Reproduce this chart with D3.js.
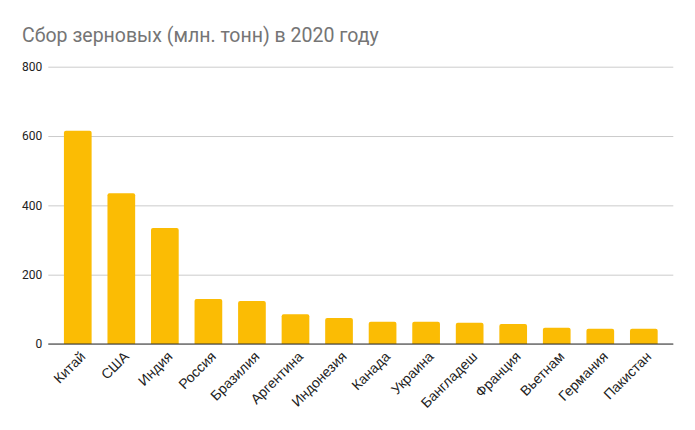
<!DOCTYPE html>
<html><head><meta charset="utf-8">
<script src="https://cdn.jsdelivr.net/npm/d3@7"></script>
<style>body{margin:0;background:#fff;font-family:Roboto,Arial,sans-serif}</style>
</head><body><svg id="c" width="695" height="430"></svg>
<script>
const title = "Сбор зерновых (млн. тонн) в 2020 году";
const categories = ["Китай","США","Индия","Россия","Бразилия","Аргентина","Индонезия","Канада","Украина","Бангладеш","Франция","Вьетнам","Германия","Пакистан"];
const values = [615,435,335,130,124,86,75,64,64,61,58,47,44,44];
const yTicks = [0,200,400,600,800];

const svg = d3.select("#c");
svg.append("rect").attr("width",695).attr("height",430).attr("fill","#fff");
const mLeft = 48.3, mRight = 673.3, mTop = 66.7, mBottom = 344;
const x = d3.scaleBand().domain(categories).range([56,665.6]).paddingInner(0.364).paddingOuter(0.182);
const y = d3.scaleLinear().domain([0,800]).range([mBottom,mTop]);

svg.append("text").attr("x",22).attr("y",42).attr("fill","#757575")
  .style("font-family","Roboto, Arial, sans-serif").style("font-size","19.5px").text(title);

const ya = svg.append("g").attr("transform",`translate(${mLeft},0)`)
  .call(d3.axisLeft(y).tickValues(yTicks).tickSize(-(mRight-mLeft)).tickPadding(6).tickFormat(d3.format("d")));
ya.select(".domain").remove();
ya.selectAll(".tick line").attr("stroke","#cccccc");
ya.selectAll(".tick text").attr("fill","#222").style("font-family","Roboto, Arial, sans-serif").style("font-size","12px");

svg.append("g").selectAll("path").data(values).join("path")
  .attr("fill","#fbbc04")
  .attr("d",(d,i)=>{
    const x0 = x(categories[i]), w = x.bandwidth(), y0 = y(d), r = 2;
    return `M${x0},${mBottom}V${y0+r}Q${x0},${y0} ${x0+r},${y0}H${x0+w-r}Q${x0+w},${y0} ${x0+w},${y0+r}V${mBottom}Z`;
  });

svg.append("line").attr("x1",mLeft).attr("x2",mRight).attr("y1",mBottom).attr("y2",mBottom)
  .attr("stroke","#333").attr("stroke-width",1.2);

svg.append("g").selectAll("text").data(categories).join("text")
  .attr("transform",d=>`translate(${x(d)+x.bandwidth()/2+5},${mBottom+10}) rotate(-45)`)
  .attr("text-anchor","end").attr("dy","0.35em")
  .attr("fill","#222").style("font-family","'Liberation Sans', Arial, sans-serif").style("font-size","14px")
  .text(d=>d);
</script></body></html>
